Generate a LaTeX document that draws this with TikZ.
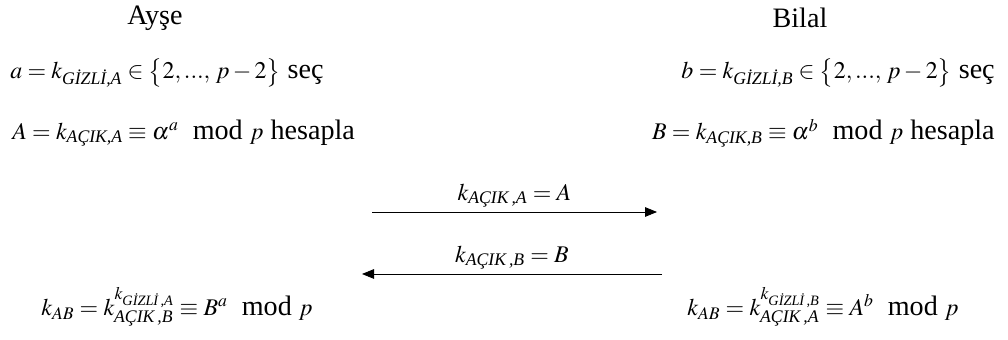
\documentclass[tikz,border=0pt]{standalone}
\usepackage{amsmath}
\usepackage{mathptmx}
\usepackage{fontspec}
\setmainfont{Liberation Serif}
\usetikzlibrary{arrows.meta,positioning}

\newcommand{\ksub}[1]{k_{\text{\itshape #1}}}
\newcommand{\mth}[1]{{\fontsize{17}{21}\selectfont$#1$}}

\tikzset{
  party/.style={inner sep=0pt, font=\fontsize{20}{24}\selectfont},
  formula/.style={inner sep=0pt, font=\fontsize{20}{24}\selectfont},
  msg/.style={-{Triangle[length=3mm,width=2.4mm]}, line width=0.6pt},
}

\begin{document}
\begin{tikzpicture}[x=0.025cm, y=-0.025cm]
  \useasboundingbox (0,0) rectangle (1008,340);
  % parties
  \node[party] (ayse) at (155,18) {Ayşe};
  \node[party] (bilal) at (800,18) {Bilal};
  % left side
  \node[formula, anchor=west] (agizli) at (10,73) {\mth{a=\ksub{GİZLİ,A}\in\big\{2,...,\,p-2\big\}}\ seç};
  \node[formula, anchor=west] (aacik) at (12,133) {\mth{A=\ksub{AÇIK,A}\equiv\alpha^{a}}\ \ mod \mth{p}\ hesapla};
  % right side
  \node[formula, anchor=east] (bgizli) at (995,73) {\mth{b=\ksub{GİZLİ,B}\in\big\{2,...,\,p-2\big\}}\ seç};
  \node[formula, anchor=east] (bacik) at (995,133) {\mth{B=\ksub{AÇIK,B}\equiv\alpha^{b}}\ \ mod \mth{p}\ hesapla};
  % messages
  \coordinate (a1) at (372,212);
  \coordinate (b1) at (657,212);
  \coordinate (b2) at (662,274);
  \coordinate (a2) at (362,274);
  \draw[msg] (a1) -- node[formula, above=3pt] (m1) {\mth{\ksub{AÇIK\,,A}=A}} (b1);
  \draw[msg] (b2) -- node[formula, above=3pt] (m2) {\mth{\ksub{AÇIK\,,B}=B}} (a2);
  % shared key
  \node[formula] (kab) at (177,307) {\mth{k_{AB}=k_{\text{\itshape AÇIK\,,B}}^{\ksub{GİZLİ\,,A}}\equiv B^{a}}\ \ mod \mth{p}};
  \node[formula] (kba) at (823,307) {\mth{k_{AB}=k_{\text{\itshape AÇIK\,,A}}^{\ksub{GİZLİ\,,B}}\equiv A^{b}}\ \ mod \mth{p}};
\end{tikzpicture}
\end{document}
